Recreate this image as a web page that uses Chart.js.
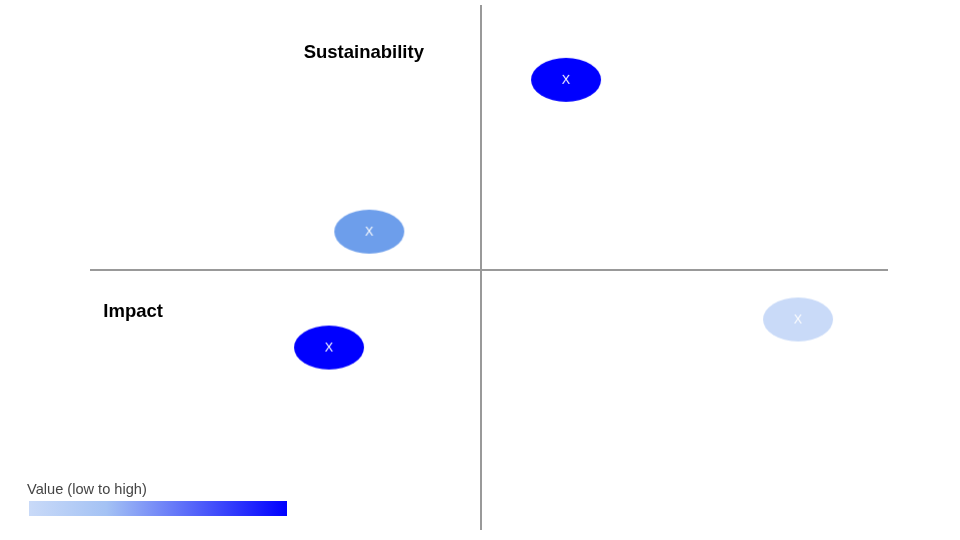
<!DOCTYPE html>
<html>
<head>
<meta charset="utf-8">
<script src="https://cdn.jsdelivr.net/npm/chart.js@4"></script>
<style>
  html, body { margin: 0; padding: 0; background: #fff; }
  #wrap { width: 960px; height: 540px; position: relative; }
</style>
</head>
<body>
<div id="wrap"><canvas id="myChart"></canvas></div>
<script>
// bubble positions (x = impact side, y = sustainability side)
const xValues = [2.17, -2.86, -3.89, 8.1];
const yValues = [7.32, 1.48, -2.98, -1.9];
const levels = ["high", "mid", "high", "low"];
const pointLabels = ["X", "X", "X", "X"];

const axisTitles = ["Sustainability", "Impact"];
const titleX = [-3.0, -9.66];
const titleY = [8.36, -1.62];

const palette = { low: "#c9daf8", mid: "#6d9eeb", high: "#0000ff" };
const legendTitle = "Value (low to high)";

const FONT = "'Liberation Sans', Arial, sans-serif";

function makeEllipse(color, text) {
  const c = document.createElement("canvas");
  c.width = 72;
  c.height = 46;
  const g = c.getContext("2d");
  g.fillStyle = color;
  g.beginPath();
  g.ellipse(36, 23, 35, 22, 0, 0, Math.PI * 2);
  g.fill();
  g.fillStyle = "#ffffff";
  g.font = "12.5px " + FONT;
  g.textAlign = "center";
  g.textBaseline = "middle";
  g.fillText(text, 36, 24);
  return c;
}

const points = xValues.map((x, i) => ({ x: x, y: yValues[i] }));
const styles = levels.map((lv, i) => makeEllipse(palette[lv], pointLabels[i]));

const extras = {
  id: "extras",
  afterDatasetsDraw(chart) {
    const ctx = chart.ctx;
    const xs = chart.scales.x;
    const ys = chart.scales.y;
    ctx.save();
    ctx.fillStyle = "#000";
    ctx.font = "bold 18.5px " + FONT;
    ctx.textBaseline = "middle";
    axisTitles.forEach((t, i) => {
      ctx.textAlign = i === 0 ? "center" : "left";
      ctx.fillText(t, xs.getPixelForValue(titleX[i]), ys.getPixelForValue(titleY[i]));
    });

    // colour legend
    ctx.font = "14.6px " + FONT;
    ctx.fillStyle = "#444";
    ctx.textAlign = "left";
    ctx.fillText(legendTitle, 27, 490);
    const grad = ctx.createLinearGradient(29, 0, 287, 0);
    grad.addColorStop(0, palette.low);
    grad.addColorStop(0.3, "#a4c2f4");
    grad.addColorStop(1, palette.high);
    ctx.fillStyle = grad;
    ctx.fillRect(29, 501, 258, 15);
    ctx.restore();
  }
};

const zeroOnly = (ctx) => (ctx.tick && ctx.tick.value === 0 ? "#999999" : "rgba(0,0,0,0)");

new Chart(document.getElementById("myChart"), {
  type: "scatter",
  data: {
    datasets: [{
      data: points,
      pointStyle: styles,
      pointRadius: 35,
      pointHoverRadius: 35
    }]
  },
  options: {
    responsive: true,
    maintainAspectRatio: false,
    animation: false,
    events: [],
    layout: { autoPadding: false, padding: { left: 90, right: 72, top: 5, bottom: 10 } },
    plugins: { legend: { display: false }, tooltip: { enabled: false } },
    scales: {
      x: {
        min: -10, max: 10.4,
        ticks: { display: false, stepSize: 10 },
        border: { display: false },
        grid: { color: zeroOnly, lineWidth: 2, drawTicks: false }
      },
      y: {
        min: -10, max: 10.2,
        ticks: { display: false, stepSize: 10 },
        border: { display: false },
        grid: { color: zeroOnly, lineWidth: 2, drawTicks: false }
      }
    }
  },
  plugins: [extras]
});
</script>
</body>
</html>
